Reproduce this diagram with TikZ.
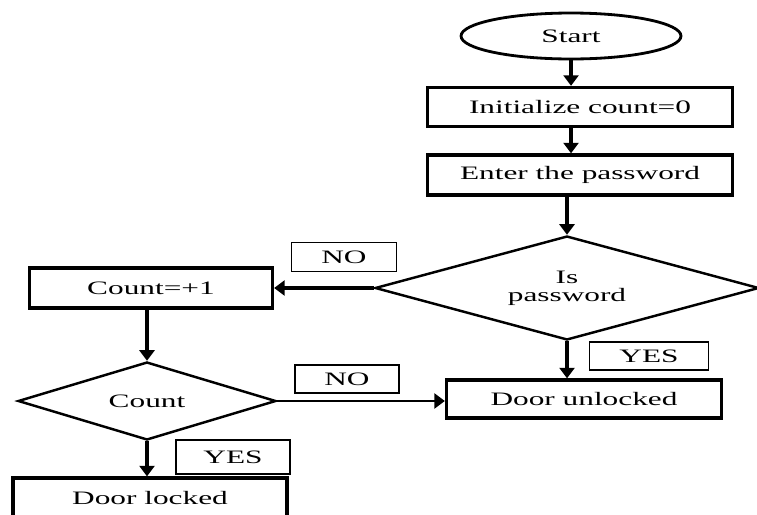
\documentclass[tikz,border=0pt]{standalone}
\usepackage{fontspec}
\setmainfont[FakeStretch=1.65]{Liberation Serif}
\usetikzlibrary{shapes.geometric, arrows.meta}

\begin{document}
\begin{tikzpicture}[x=0.02cm, y=-0.02cm,
        every node/.style={font=\fontsize{10.8}{10.3}\selectfont, inner sep=0pt},
        box/.style={draw, line width=1.9pt, minimum width=#1, minimum height=0.8cm},
        cond/.style={draw, diamond, line width=1.4pt},
        tag/.style={draw, line width=0.6pt, minimum height=0.56cm},
        arr/.style={line width=2.2pt, -{Triangle[length=6pt, width=8.5pt]}}]
    \useasboundingbox (0,0) rectangle (757,514);
    \clip (0,0) rectangle (757,514);

    \node[draw, ellipse, line width=1.6pt, minimum width=4.4cm, minimum height=0.92cm] (start) at (571,36) {Start};
    \node[box=6.1cm, minimum height=0.78cm] (init) at (580,107) {Initialize count=0};
    \node[box=6.1cm] (enter) at (580,175) {Enter the password};
    \node[cond, aspect=3.7, minimum width=7.68cm, minimum height=2.08cm, align=center] (ispw) at (567,288) {Is\\password};
    \node[box=4.86cm] (count) at (151,288) {Count=+1};
    \node[cond, aspect=3.3, minimum width=5.16cm, minimum height=1.56cm] (cntd) at (147,401) {Count};
    \node[box=5.5cm, minimum height=0.76cm] (unlock) at (584,399) {Door unlocked};
    \node[box=5.48cm] (locked) at (150,498) {Door locked};

    \node[tag, minimum width=2.1cm, minimum height=0.58cm] (no1) at (344,257) {NO};
    \node[tag, minimum width=2.38cm] (yes1) at (649,356) {YES};
    \node[tag, minimum width=2.08cm] (no2) at (347,379) {NO};
    \node[tag, minimum width=2.28cm, minimum height=0.68cm] (yes2) at (233,457) {YES};

    \draw[arr] (start.south) -- (start.south |- init.north);
    \draw[arr] (start.south |- init.south) -- (start.south |- enter.north);
    \draw[arr] (ispw.north |- enter.south) -- (ispw.north);
    \draw[arr] (ispw.south) -- (ispw.south |- unlock.north);
    \draw[arr, line width=1.8pt] (ispw.west) -- (ispw.west -| count.east);
    \draw[arr] (cntd.north |- count.south) -- (cntd.north);
    \draw[arr, line width=1.6pt] (cntd.east) -- (cntd.east -| unlock.west);
    \draw[arr] (cntd.south) -- (cntd.south |- locked.north);
\end{tikzpicture}
\end{document}
